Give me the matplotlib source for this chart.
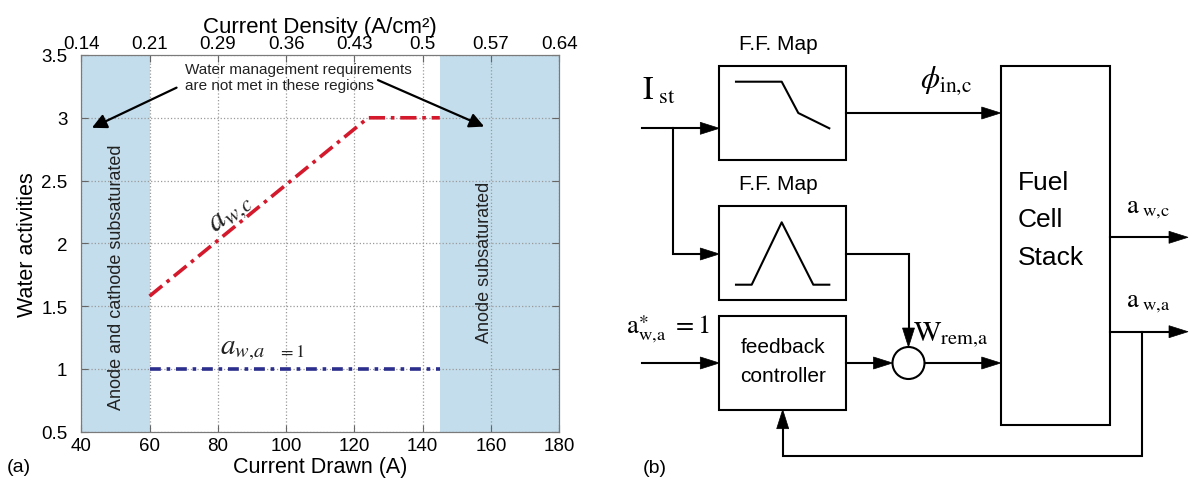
import numpy as np
import matplotlib
matplotlib.use('Agg')
import matplotlib.pyplot as plt
from matplotlib.patches import Rectangle, Circle, Polygon

plt.rcParams['font.family'] = ['Liberation Sans', 'DejaVu Sans']
plt.rcParams['mathtext.fontset'] = 'stix'

# ---- panel (a) data ----
current_c = [60, 124, 145]          # cathode water activity line
aw_cathode = [1.58, 3.0, 3.0]
current_a = [60, 145]               # anode water activity line
aw_anode = [1.0, 1.0]
xticks = [40, 60, 80, 100, 120, 140, 160, 180]
density_labels = ['0.14', '0.21', '0.29', '0.36', '0.43', '0.5', '0.57', '0.64']
yticks = [0.5, 1, 1.5, 2, 2.5, 3, 3.5]
ytick_labels = ['0.5', '1', '1.5', '2', '2.5', '3', '3.5']
bad_low = (40, 60)
bad_high = (145, 180)

W, H = 1189, 481
fig = plt.figure(figsize=(W / 100, H / 100), dpi=100)

# ---------------- panel (a) ----------------
ax = fig.add_axes([81.3 / W, 1 - 432.7 / H, 478 / W, 376.7 / H])
shade = '#c3ddec'
ax.axvspan(*bad_low, color=shade, lw=0, zorder=1)
ax.axvspan(*bad_high, color=shade, lw=0, zorder=1)
ax.plot(current_c, aw_cathode, color='#d3192b', lw=2.6, ls=(0, (4.5, 1.6, 1, 1.6)), zorder=3)
ax.plot(current_a, aw_anode, color='#2b2e8c', lw=2.6, ls=(0, (3, 1.6, 1, 1.6)), zorder=3)
ax.set_xlim(40, 180)
ax.set_ylim(0.5, 3.5)
ax.set_xticks(xticks)
ax.set_yticks(yticks, ytick_labels)
ax.grid(True, ls=':', color='#9a9a9a', lw=0.9)
ax.tick_params(direction='in', length=5, width=0.8, color='#666666', labelsize=13.5,
               right=True)
ax.tick_params(axis='x', pad=4)
ax.tick_params(axis='y', pad=10)
for s in ax.spines.values():
    s.set_color('#7a7a7a')
ax.set_xlabel('Current Drawn (A)', fontsize=15.5, labelpad=1.5)
ax.set_ylabel('Water activities', fontsize=15.5, labelpad=2.5)

top = ax.twiny()
top.set_xlim(ax.get_xlim())
top.set_xticks(xticks, density_labels)
top.tick_params(direction='in', length=5, width=0.8, color='#666666', labelsize=13.5, pad=2)
for s in top.spines.values():
    s.set_color('#7a7a7a')
top.set_xlabel('Current Density (A/cm²)', fontsize=16, labelpad=2.5)

ax.text(70.4, 3.325, 'Water management requirements\nare not met in these regions',
        ha='left', va='center', fontsize=11, color='#222222', linespacing=1.25)
arrow_kw = dict(arrowstyle='-|>', color='k', lw=1.6, mutation_scale=22, shrinkA=0, shrinkB=0)
ax.annotate('', xy=(43.1, 2.92), xytext=(67.9, 3.24), arrowprops=arrow_kw)
ax.annotate('', xy=(158, 2.93), xytext=(126.9, 3.30), arrowprops=arrow_kw)

ax.text(50.4, 1.74, 'Anode and cathode subsaturated', rotation=90, ha='center', va='center',
        fontsize=13, color='#222222')
ax.text(158, 1.86, 'Anode subsaturated', rotation=90, ha='center', va='center',
        fontsize=13, color='#222222')
ax.text(83.6, 2.25, r'$a_{w{,}c}$', rotation=39, ha='center', va='center',
        rotation_mode='anchor', fontsize=23, color='#222222')
ax.text(80.6, 1.124, r'$a_{w{,}a}$', ha='left', va='baseline', fontsize=21, color='#222222')
ax.text(97.5, 1.105, r'$=1$', ha='left', va='baseline', fontsize=13, color='#222222')
fig.text(19 / W, 1 - 468 / H, '(a)', ha='center', va='center', fontsize=14)

# ---------------- panel (b): block diagram in pixel coordinates ----------------
bx = fig.add_axes([600 / W, 0, 589 / W, 1])
bx.set_xlim(600, W)
bx.set_ylim(H, 0)
bx.axis('off')
LW = 1.5


def box(x0, y0, x1, y1):
    bx.add_patch(Rectangle((x0, y0), x1 - x0, y1 - y0, fill=False, ec='k', lw=LW))


def wire(pts, head=True):
    pts = np.array(pts, dtype=float)
    if head:
        tip = pts[-1].copy()
        d = tip - pts[-2]
        d /= np.hypot(*d)
        n = np.array([-d[1], d[0]])
        base = tip - 19 * d
        pts[-1] = base
        bx.add_patch(Polygon([tip, base + 6 * n, base - 6 * n], closed=True, fc='k', ec='k', lw=0.5))
    bx.plot(pts[:, 0], pts[:, 1], color='k', lw=LW, solid_joinstyle='miter')


box(719.3, 66.7, 845.7, 160.7)
box(719.3, 207.3, 845.7, 301)
box(719.3, 317.3, 845.7, 410.7)
box(1000.7, 66.7, 1110, 425.7)
bx.add_patch(Circle((908.5, 364), 16, fill=False, ec='k', lw=LW))

# map shapes inside the feed-forward boxes
bx.plot([736, 781.7, 798.3, 829.3], [82.7, 82.7, 114, 129.3], color='k', lw=LW)
bx.plot([736, 751.7, 781.7, 813.3, 829.3], [285.7, 285.7, 223.3, 285.7, 285.7], color='k', lw=LW)

wire([(641.7, 129.3), (719.3, 129.3)])
wire([(672.7, 129.3), (672.7, 255), (719.3, 255)])
wire([(845.7, 114), (1000.7, 114)])
wire([(845.7, 255), (908.5, 255), (908.5, 348)])
wire([(641.7, 364), (719.3, 364)])
wire([(845.7, 364), (892.5, 364)])
wire([(924.5, 364), (1000.7, 364)])
wire([(1110, 238.3), (1188, 238.3)])
wire([(1110, 332.7), (1188, 332.7)])
wire([(1141.7, 332.7), (1141.7, 457.3), (782.7, 457.3), (782.7, 410.7)])

bx.text(778, 45, 'F.F. Map', ha='center', va='center', fontsize=15)
bx.text(778, 185, 'F.F. Map', ha='center', va='center', fontsize=15)
bx.text(783, 348, 'feedback', ha='center', va='center', fontsize=15)
bx.text(783, 377, 'controller', ha='center', va='center', fontsize=15)
bx.text(1018, 183, 'Fuel', ha='left', va='center', fontsize=19)
bx.text(1018, 220, 'Cell', ha='left', va='center', fontsize=19)
bx.text(1018, 258, 'Stack', ha='left', va='center', fontsize=19)

bx.text(642, 100, r'$\mathrm{I}_{\ \mathrm{st}}$', ha='left', va='baseline', fontsize=23)
bx.text(920, 88, r'$\phi_{\mathrm{in{,}c}}$', ha='left', va='baseline', fontsize=22)
bx.text(913, 341.7, r'$\mathrm{W}_{\mathrm{rem{,}a}}$', ha='left', va='baseline', fontsize=21)
bx.text(626, 333.3, r'$\mathrm{a}^{\ast}_{\mathrm{w{,}a}}\ =1$', ha='left', va='baseline', fontsize=19)
bx.text(1126, 213.3, r'$\mathrm{a}_{\ \mathrm{w{,}c}}$', ha='left', va='baseline', fontsize=19)
bx.text(1126, 306.7, r'$\mathrm{a}_{\ \mathrm{w{,}a}}$', ha='left', va='baseline', fontsize=19)
bx.text(655, 469, '(b)', ha='center', va='center', fontsize=14)

fig.savefig('out.png', dpi=100)
